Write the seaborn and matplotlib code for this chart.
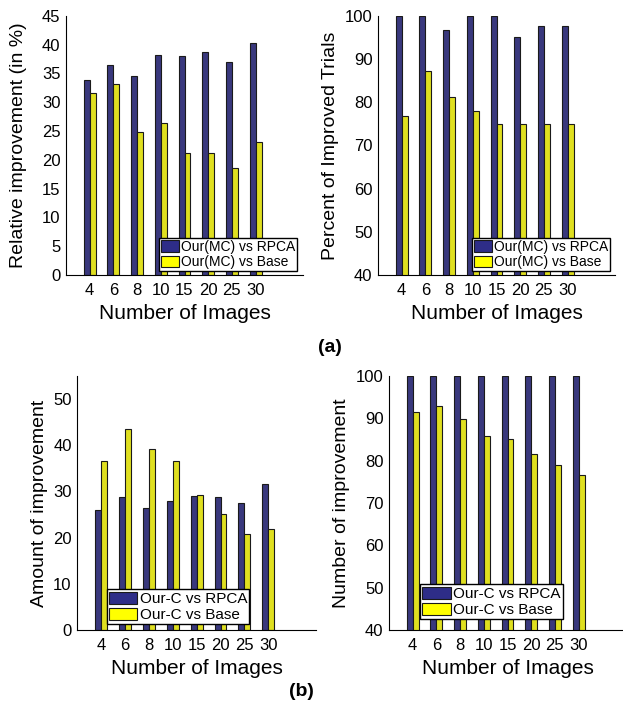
"""Grouped bar charts: improvement of Our(MC) / Our-C over RPCA and Base."""

import matplotlib

matplotlib.use("Agg")
import matplotlib.pyplot as plt
import pandas as pd
import seaborn as sns
from matplotlib.patches import Patch

# ---- data ----
num_images = ["4", "6", "8", "10", "15", "20", "25", "30"]

mc_rel_rpca = [33.8, 36.4, 34.6, 38.1, 38.0, 38.7, 36.9, 40.2]
mc_rel_base = [31.5, 33.2, 24.9, 26.3, 21.2, 21.2, 18.5, 23.0]

mc_pct_rpca = [100, 100, 96.8, 100, 100, 95.0, 97.6, 97.6]
mc_pct_base = [76.7, 87.3, 81.3, 77.9, 75.0, 75.0, 75.0, 75.0]

c_amt_rpca = [25.9, 28.9, 26.4, 27.9, 29.0, 28.9, 27.6, 31.6]
c_amt_base = [36.6, 43.5, 39.3, 36.6, 29.3, 25.2, 20.7, 21.8]

c_num_rpca = [100, 100, 100, 100, 100, 100, 100, 100]
c_num_base = [91.6, 92.9, 89.9, 85.9, 85.1, 81.6, 78.9, 76.5]

mc_labels = ["Our(MC) vs RPCA", "Our(MC) vs Base"]
c_labels = ["Our-C vs RPCA", "Our-C vs Base"]

BLUE = "#2E2D88"
YELLOW = "#FFFF00"
EDGE = "#1a1a1a"

W, H = 623, 710


def long_frame(first, second, labels):
    rows = []
    for name, values in zip(labels, (first, second)):
        for img, v in zip(num_images, values):
            rows.append({"images": img, "value": v, "series": name})
    return pd.DataFrame(rows)


def draw_panel(fig, rect, first, second, labels, ylim, yticks, ylabel,
               legend_xy, legend_font, handle_len, ylabel_pad):
    left, top, right, bottom = rect
    ax = fig.add_axes([left / W, 1 - bottom / H, (right - left) / W, (bottom - top) / H])
    frame = long_frame(first, second, labels)
    sns.barplot(data=frame, x="images", y="value", hue="series", order=num_images,
                hue_order=labels, palette=[BLUE, YELLOW], width=0.5, dodge=True,
                edgecolor=EDGE, linewidth=0.8, legend=False, ax=ax)
    ax.set_xlim(-1, 9)
    ax.set_ylim(*ylim)
    ax.set_yticks(yticks)
    ax.set_ylabel(ylabel, fontsize=14, labelpad=ylabel_pad)
    ax.set_xlabel("Number of Images", fontsize=15)
    ax.tick_params(direction="in", length=3, labelsize=12, pad=4, colors="black")
    ax.tick_params(axis="x", pad=6)
    sns.despine(ax=ax)
    for side in ("left", "bottom"):
        ax.spines[side].set_linewidth(0.8)
        ax.spines[side].set_color("black")
    handles = [Patch(facecolor=BLUE, edgecolor=EDGE, linewidth=0.8),
               Patch(facecolor=YELLOW, edgecolor=EDGE, linewidth=0.8)]
    ax.legend(handles, labels, loc="upper left",
              bbox_to_anchor=(legend_xy[0] / W, 1 - legend_xy[1] / H),
              bbox_transform=fig.transFigure, borderaxespad=0,
              fontsize=legend_font, frameon=True, fancybox=False,
              edgecolor="black", framealpha=1, borderpad=0.15,
              labelspacing=0.1, handlelength=handle_len, handleheight=0.85,
              handletextpad=0.15)
    return ax


sns.set_theme(style="white")
plt.rcParams["font.family"] = ["Liberation Sans", "DejaVu Sans"]
plt.rcParams["text.color"] = "black"
plt.rcParams["axes.labelcolor"] = "black"

fig = plt.figure(figsize=(W / 100, H / 100), dpi=100)

draw_panel(fig, (66, 15.7, 303, 275), mc_rel_rpca, mc_rel_base, mc_labels,
           (0, 45), range(0, 46, 5), "Relative improvement (in %)",
           (158.7, 237.7), 10, 1.3, 11)
draw_panel(fig, (378, 15.7, 615, 275), mc_pct_rpca, mc_pct_base, mc_labels,
           (40, 100), range(40, 101, 10), "Percent of Improved Trials",
           (471.7, 237.7), 10, 1.3, 4)
draw_panel(fig, (77.3, 376, 316, 630), c_amt_rpca, c_amt_base, c_labels,
           (0, 55), range(0, 51, 10), "Amount of improvement",
           (106.7, 589.3), 11, 1.85, 4)
draw_panel(fig, (389, 376, 626, 630), c_num_rpca, c_num_base, c_labels,
           (40, 100), range(40, 101, 10), "Number of improvement",
           (420, 584.3), 11, 1.85, 4)

fig.text(330 / W, 1 - 348 / H, "(a)", fontsize=14, fontweight="bold",
         ha="center", va="center")
fig.text(301 / W, 1 - 692 / H, "(b)", fontsize=14, fontweight="bold",
         ha="center", va="center")

fig.savefig("out.png", dpi=100)
plt.close(fig)
